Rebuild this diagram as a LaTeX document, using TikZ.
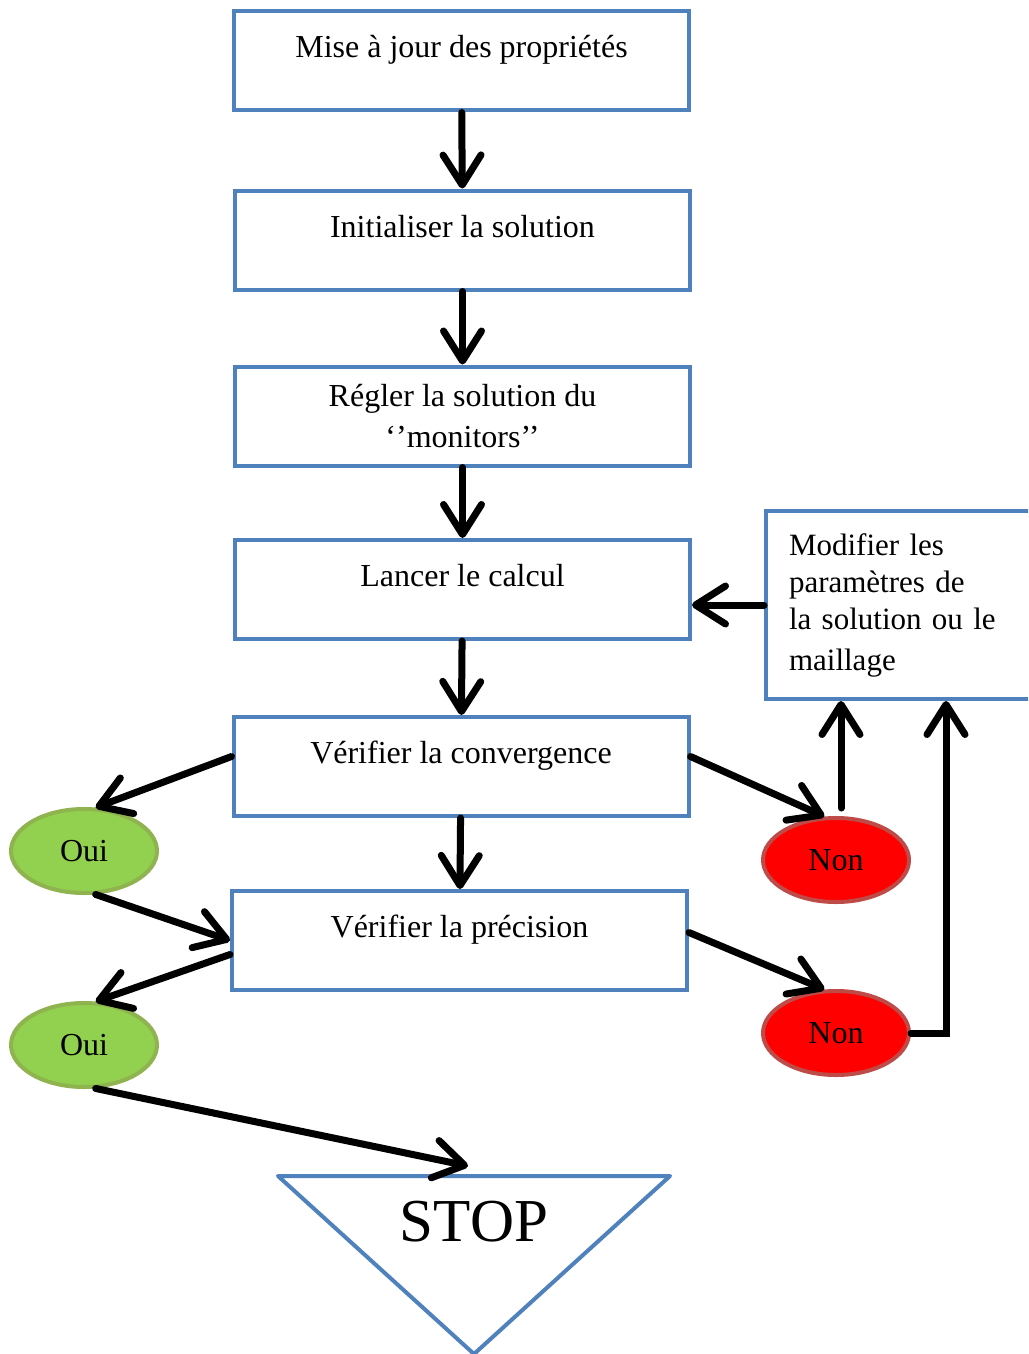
\documentclass[tikz,border=0pt]{standalone}
\usepackage{fontspec}
\setmainfont{Liberation Serif}
\usetikzlibrary{arrows.meta,shapes.geometric}

\definecolor{boxblue}{HTML}{4F81BD}
\definecolor{ouifill}{HTML}{92D050}
\definecolor{ouiline}{HTML}{8EB34F}
\definecolor{nonline}{HTML}{BE4B48}

\begin{document}
\begin{tikzpicture}[x=0.5pt,y=-0.5pt,
	every node/.style={black,font=\fontsize{16}{20.5}\selectfont},
	etape/.style={draw=boxblue,line width=2pt,minimum width=227.5pt,minimum height=49.5pt,inner sep=0pt},
	etapehaut/.style={etape,text height=10pt,text depth=13pt},
	oui/.style={ellipse,draw=ouiline,fill=ouifill,line width=2pt,minimum width=73pt,minimum height=42pt,inner sep=0pt},
	non/.style={oui,draw=nonline,fill=red},
	fleche/.style={line width=3.5pt,line cap=round,line join=miter,-{Straight Barb[length=15pt,width=19pt,line cap=round,line join=round]}}]

	\useasboundingbox (0,0) rectangle (1028,1354);
	\clip (0,0) rectangle (1028,1354);

	% les etapes du calcul
	\node[etapehaut] (maj) at (461.5,61) {Mise à jour des propriétés};
	\node[etapehaut] (init) at (462.5,240) {Initialiser la solution};
	\node[etape,align=center] (regler) at (462.5,416) {Régler la solution du\\‘’monitors’’};
	\node[etapehaut] (lancer) at (462.5,589.5) {Lancer le calcul};
	\node[etapehaut] (conv) at (461,766.5) {Vérifier la convergence};
	\node[etapehaut] (prec) at (459.5,940.5) {Vérifier la précision};

	\node[draw=boxblue,line width=2pt,anchor=north west,minimum width=138pt,minimum height=94pt,
		text width=115pt,align=left,inner xsep=11.5pt,font=\fontsize{15.5}{18.5}\selectfont]
		(modif) at (764,509) {Modifier les\\paramètres de\\la solution ou le\\[2pt]maillage};

	% les reponses
	\node[oui] (oui1) at (84,851) {Oui};
	\node[oui] (oui2) at (84,1045) {Oui};
	\node[non] (non1) at (836,860) {Non};
	\node[non] (non2) at (836,1033) {Non};

	% fin
	\coordinate (s1) at (278,1176);
	\coordinate (s2) at (670,1176);
	\coordinate (s3) at (474,1354);
	\coordinate (stopfleche) at (468,1166);
	\draw[boxblue,line width=2pt,line join=round] (s1) -- (s2) -- (s3) -- cycle;
	\node[font=\fontsize{30.5}{36}\selectfont] (stop) at (474,1222) {STOP};

	% fleches
	\draw[fleche] (maj) -- (init);
	\draw[fleche] (init) -- (regler);
	\draw[fleche] (regler) -- (lancer);
	\draw[fleche] (lancer) -- (conv);
	\draw[fleche] (conv) -- (prec);
	\draw[fleche] (modif.west) -- (modif.west -| lancer.east);

	\draw[fleche] ([yshift=5pt]conv.west) -- (oui1.75);
	\draw[fleche] (oui1.-75) -- (prec.west);
	\draw[fleche] ([yshift=-7pt]prec.west) -- (oui2.75);
	\draw[fleche] (oui2.-75) -- (stopfleche);

	\draw[fleche] ([yshift=5pt]conv.east) -- (non1.105);
	\draw[fleche] ([yshift=4pt]prec.east) -- (non2.105);
	\draw[fleche] ([xshift=2.5pt,yshift=4pt]non1.north) -- ([xshift=2.5pt]non1.north |- modif.south);
	\draw[fleche] (non2.east) -| ([xshift=91pt]modif.south west);
\end{tikzpicture}
\end{document}
